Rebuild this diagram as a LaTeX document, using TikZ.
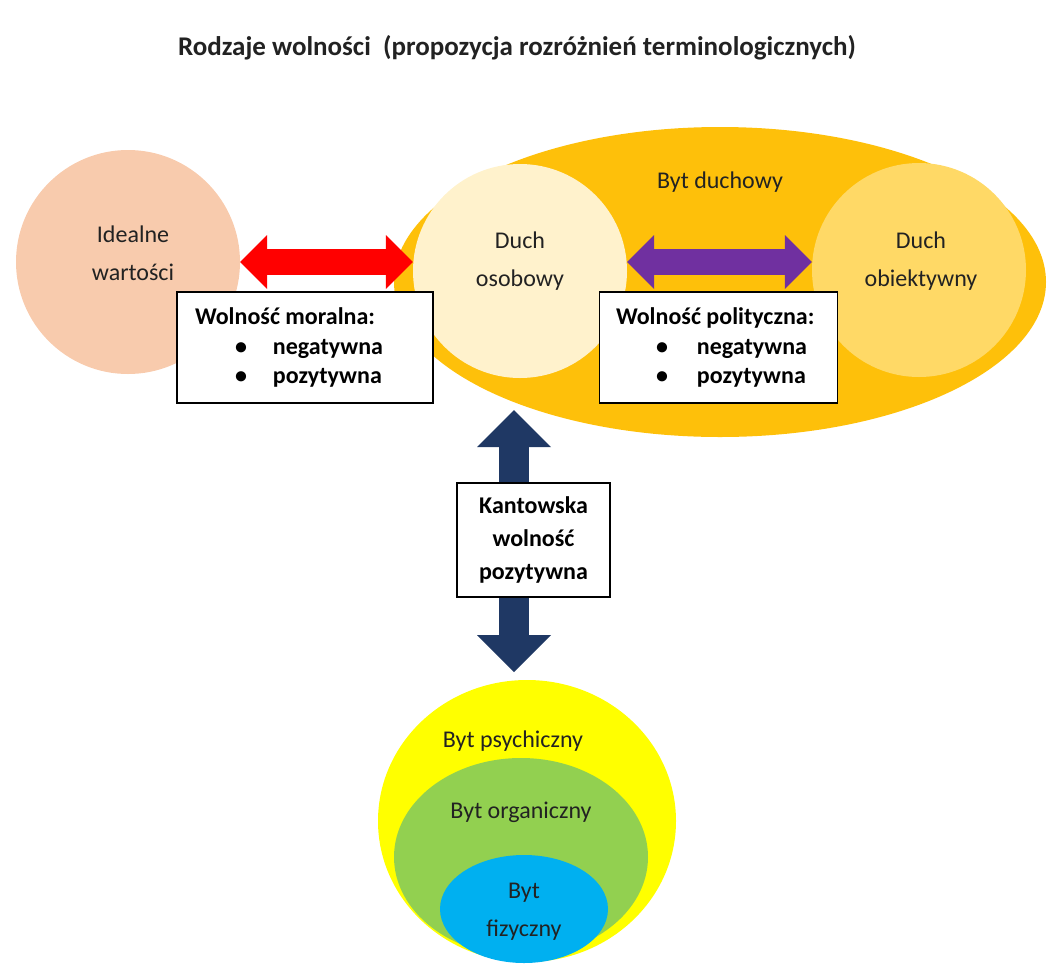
\documentclass[tikz,border=0pt]{standalone}
\usepackage{fontspec}
\setmainfont{Carlito}
\usetikzlibrary{arrows.meta,shapes.geometric}
\definecolor{cOrange}{HTML}{FEC00A}
\definecolor{cOsob}{HTML}{FFF2CC}
\definecolor{cObj}{HTML}{FFD966}
\definecolor{cIdeal}{HTML}{F8CBAD}
\definecolor{cRed}{HTML}{FF0000}
\definecolor{cPurple}{HTML}{7030A0}
\definecolor{cNavy}{HTML}{1F3864}
\definecolor{cYellow}{HTML}{FFFF00}
\definecolor{cGreen}{HTML}{92D050}
\definecolor{cBlue}{HTML}{00B0F0}
\definecolor{cTxt}{HTML}{222222}
\newcommand{\bulitem}[3]{\hspace*{#1}\makebox[#2][l]{\textbullet}#3}
\begin{document}
\begin{tikzpicture}[x=1pt,y=-1pt,
  blob/.style={ellipse, inner sep=0pt, draw=none},
  disc/.style={circle, inner sep=0pt, draw=none},
  lbl/.style={font=\fontsize{24}{38}\selectfont, text=cTxt, align=center, inner sep=0pt},
  infobox/.style={draw=black, line width=1.2pt, fill=white, font=\bfseries\fontsize{24}{29.5}\selectfont, inner sep=0pt},
  dtip/.style={arrows={{Triangle[length=#1,width=2*#1,line width=0pt]}-{Triangle[length=#1,width=2*#1,line width=0pt]}}}
]
\useasboundingbox (0,0) rectangle (1050,967);

% title
\node[font=\bfseries\fontsize{27}{32}\selectfont, text=cTxt] (title) at (517,48) {Rodzaje wolności \ (propozycja rozróżnień terminologicznych)};

% upper group
\node[blob, fill=cOrange, minimum width=652pt, minimum height=310pt] (duchowy) at (720,282) {};
\node[disc, fill=cIdeal, minimum size=224pt] (ideal) at (128,262) {};
\node[disc, fill=cOsob, minimum size=214pt] (osob) at (520,271) {};
\node[disc, fill=cObj, minimum size=214pt] (obj) at (919,270) {};

\node[lbl] (tduchowy) at (720,182) {Byt duchowy};
\node[lbl] (tideal) at (133,253) {Idealne\\wartości};
\node[lbl] (tosob) at (520,261) {Duch\\osobowy};
\node[lbl] (tobj) at (921,261) {Duch\\obiektywny};

% lower group
\node[blob, fill=cYellow, minimum width=298pt, minimum height=282pt] (psych) at (527,821) {};
\node[blob, fill=cGreen, minimum width=254pt, minimum height=198pt] (organ) at (521,857) {};
\node[blob, fill=cBlue, minimum width=168pt, minimum height=108pt] (fiz) at (524,909) {};

\node[lbl] (tpsych) at (513,741) {Byt psychiczny};
\node[lbl] (torgan) at (521,812) {Byt organiczny};
\node[lbl] (tfiz) at (524,912) {Byt\\fizyczny};

% arrows
\draw[cRed, line width=26pt, dtip=27pt] (ideal.east) -- (ideal.east -| osob.west);
\draw[cPurple, line width=26pt, dtip=27pt] (osob.east |- ideal.east) -- (obj.west |- ideal.east);
\coordinate (ktop) at (514,410);
\coordinate (kbot) at (514,672);
\draw[cNavy, line width=30pt, dtip=37pt] (ktop) -- (kbot);

% boxes
\node[infobox, minimum width=256pt, minimum height=111pt, text width=220pt, align=flush left] (moral) at (305,347.5)
  {Wolność moralna:\\ \bulitem{40pt}{38pt}{negatywna}\\ \bulitem{40pt}{38pt}{pozytywna}};
\node[infobox, minimum width=238pt, minimum height=111pt, text width=205pt, align=flush left] (polit) at (718.5,347.5)
  {Wolność polityczna:\\ \bulitem{40pt}{41pt}{negatywna}\\ \bulitem{40pt}{41pt}{pozytywna}};
\node[infobox, minimum width=153pt, minimum height=114pt, align=center, font=\bfseries\fontsize{24}{33}\selectfont] (kant) at (533.5,540)
  {Kantowska\\wolność\\pozytywna};
\end{tikzpicture}
\end{document}
